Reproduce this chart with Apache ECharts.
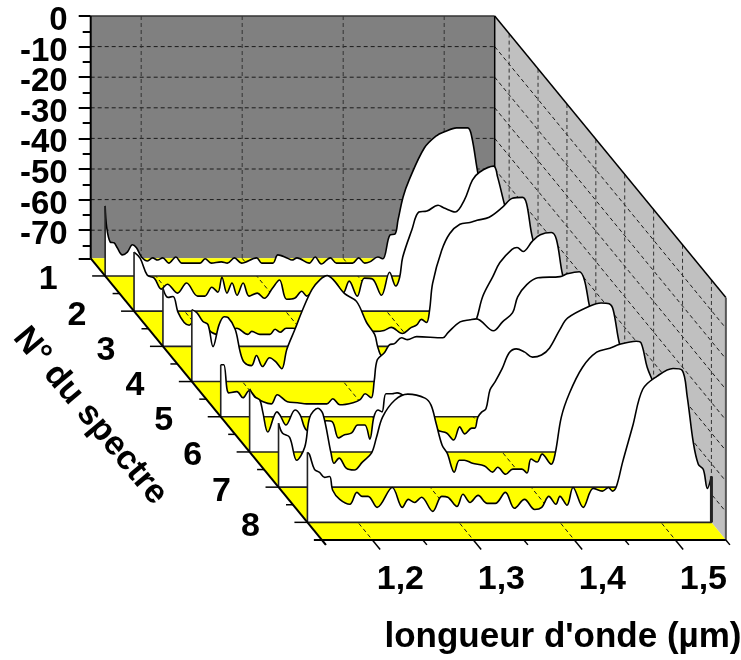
<!DOCTYPE html>
<html><head><meta charset="utf-8">
<style>html,body{margin:0;padding:0;background:#fff}#c{width:741px;height:660px}</style>
<script src="https://cdn.jsdelivr.net/npm/echarts@6/dist/echarts.min.js"></script>
</head><body><div id="c"></div>
<script>
// Spectra: [wavelength in nm, level in dB]
const spectrum1=[[1150,-56.3],[1151.5,-63.2],[1155,-68.1],[1159,-68.4],[1162,-70],[1167,-72.3],[1172,-71.4],[1177,-69],[1181,-70],[1186,-73],[1192,-74.3],[1197,-73.3],[1202,-74],[1207,-73.3],[1213,-75],[1220,-73],[1226,-75],[1244,-75],[1249,-73.6],[1255,-75],[1265,-74.6],[1271,-75],[1278,-73.3],[1285,-75],[1300,-73.3],[1305,-75],[1316,-75],[1321,-72.3],[1330,-73.3],[1335,-74],[1340,-73.3],[1352,-75],[1358,-73],[1364,-75.3],[1373,-73.3],[1379,-75],[1395,-75],[1401,-73.3],[1407,-75],[1412,-74.6],[1420,-73],[1425,-73.6],[1432,-65.8],[1437,-65.5],[1440,-60.9],[1445,-53.4],[1451,-47.8],[1466,-37.4],[1478,-33.4],[1486,-32.1],[1498,-30.8],[1509,-30.8],[1513,-33.8],[1519,-45.5],[1526,-56],[1536,-65.8],[1545,-72.3],[1550,-74]];
const spectrum2=[[1150,-59.9],[1156,-61.9],[1163,-67.4],[1170,-68.4],[1177,-72],[1183,-70.4],[1193,-73.3],[1202,-70],[1213,-74.3],[1220,-74.3],[1227,-71.4],[1233,-73],[1237,-68.1],[1242,-73.3],[1247,-70],[1252,-74],[1258,-70],[1264,-74.3],[1272,-73.3],[1279,-75],[1287,-71.7],[1294,-69],[1301,-75.3],[1309,-75],[1316,-72.7],[1321,-74.3],[1326,-73],[1334,-72.3],[1349,-70],[1357,-73.3],[1363,-69.4],[1371,-74.3],[1378,-68.4],[1386,-68.7],[1395,-74],[1403,-66.5],[1409,-71],[1413,-68.1],[1416,-61.6],[1425,-52.7],[1432,-46.8],[1440,-46.5],[1451,-44.6],[1457,-45.5],[1468,-46.8],[1477,-42.9],[1485,-36.4],[1492,-33.8],[1506,-31.8],[1510,-35.4],[1517,-44.6],[1527,-56],[1540,-65.8],[1550,-70.7]];
const spectrum3=[[1150,-60.2],[1155,-63.2],[1160,-62.9],[1165,-68.1],[1171,-71.4],[1176,-72.3],[1182,-70.7],[1190,-71.4],[1198,-74.6],[1211,-75.6],[1223,-73.3],[1234,-75.3],[1238,-74.3],[1246,-75.3],[1256,-75.3],[1261,-73.6],[1266,-74.6],[1272,-73.3],[1278,-73.3],[1295,-74],[1335,-74],[1360,-74.3],[1369,-74],[1376,-73],[1387,-75],[1396,-73],[1401,-72.3],[1406,-70.4],[1411,-71.4],[1414,-67.4],[1417,-58.6],[1426,-47.8],[1434,-42.3],[1444,-39.3],[1454,-38.7],[1461,-38],[1473,-37],[1486,-33.8],[1496,-30.8],[1506,-30.5],[1510,-32.5],[1516,-43.9],[1528,-56],[1541,-65.8],[1550,-70.7]];
const spectrum4=[[1150,-55.7],[1155,-56.7],[1161,-59.6],[1166,-60.6],[1171,-67.8],[1177,-60.6],[1182,-58],[1186,-58.3],[1193,-62.2],[1198,-69.7],[1202,-73],[1209,-74],[1214,-70.7],[1220,-74.3],[1227,-71.4],[1233,-72.7],[1239,-75],[1244,-68.7],[1252,-62.2],[1259,-56.3],[1269,-49.1],[1277,-45.9],[1284,-44.6],[1290,-45.9],[1301,-50.4],[1313,-53],[1323,-59.9],[1331,-63.8],[1334,-67.8],[1338,-71],[1346,-72],[1376,-70.4],[1405,-68.7],[1425,-63.8],[1432,-58.6],[1438,-51.4],[1448,-44.9],[1455,-40.3],[1467,-36],[1472,-35.4],[1478,-36.7],[1487,-33.4],[1495,-31.2],[1506,-30.5],[1511,-32.8],[1517,-44.2],[1529,-58.9],[1542,-68.7],[1550,-72]];
const spectrum5=[[1150,-62.2],[1153,-62.2],[1158,-71.4],[1166,-71],[1172,-73],[1178,-70.7],[1185,-73],[1192,-74.3],[1200,-75],[1206,-72],[1216,-74.3],[1226,-74.6],[1235,-75],[1255,-75],[1261,-73.3],[1268,-75.3],[1281,-74.6],[1288,-73.6],[1293,-71.7],[1299,-73],[1302,-67.4],[1305,-60.6],[1312,-58.3],[1317,-55.7],[1322,-55.3],[1329,-53.4],[1335,-54],[1344,-53],[1370,-53.4],[1375,-51.7],[1387,-48.2],[1397,-47.5],[1403,-47.2],[1420,-51.1],[1429,-48.2],[1439,-45.2],[1444,-40],[1453,-36],[1464,-33.8],[1486,-33.4],[1493,-32.5],[1505,-31.8],[1510,-34.4],[1515,-42.9],[1525,-55.7],[1537,-65.5],[1550,-70.4]];
const spectrum6=[[1150,-58.6],[1155,-61.2],[1160,-62.2],[1163,-66.1],[1168,-72.7],[1177,-66.1],[1180,-67.1],[1186,-70.4],[1195,-65.5],[1200,-67.1],[1206,-72],[1216,-72.7],[1226,-69],[1232,-69.4],[1238,-74.6],[1244,-73.6],[1251,-73],[1257,-70.4],[1264,-70.4],[1269,-75],[1273,-67.8],[1277,-65.5],[1281,-66.1],[1285,-60.2],[1291,-60.2],[1296,-59.9],[1308,-62.2],[1323,-66.1],[1336,-72],[1345,-73],[1352,-75.3],[1358,-71],[1363,-73.3],[1370,-71.4],[1373,-71.4],[1376,-67.8],[1380,-66.1],[1384,-65.1],[1388,-58.9],[1393,-56.3],[1400,-52],[1407,-46.8],[1414,-45.5],[1422,-46.5],[1430,-48.2],[1439,-47.5],[1447,-45.2],[1457,-39.3],[1465,-35.4],[1487,-31.5],[1498,-30.5],[1506,-30.8],[1510,-32.8],[1516,-43.6],[1528,-57.3],[1541,-67.1],[1550,-72]];
const spectrum7=[[1150,-58.3],[1154,-61.6],[1161,-62.9],[1168,-70.4],[1176,-66.1],[1181,-56.3],[1189,-53.4],[1194,-55.3],[1202,-68.1],[1205,-71.4],[1210,-69.7],[1217,-73],[1225,-73.6],[1233,-71],[1242,-68.1],[1247,-62.9],[1253,-56.3],[1265,-50.8],[1278,-48.8],[1295,-50.1],[1301,-52.4],[1306,-58.3],[1312,-65.5],[1317,-68.1],[1324,-74.3],[1329,-70.4],[1334,-70.4],[1342,-71.4],[1354,-72.3],[1362,-74.3],[1367,-72.7],[1375,-75],[1382,-73.3],[1391,-73.3],[1396,-74.6],[1400,-70],[1406,-71],[1411,-68.4],[1420,-71.7],[1424,-68.1],[1430,-56.3],[1438,-48.5],[1451,-40],[1465,-35.1],[1478,-33.8],[1488,-32.5],[1504,-31.5],[1509,-32.1],[1515,-40],[1522,-45.9],[1532,-57.3],[1542,-63.8],[1550,-67.1]];
const spectrum8=[[1150,-56.3],[1152,-57],[1157,-61.9],[1162,-62.9],[1167,-64.5],[1172,-64.2],[1175,-68.7],[1182,-71.7],[1192,-73.3],[1199,-69.4],[1204,-70.7],[1210,-70.7],[1219,-74.3],[1234,-67.8],[1244,-74.3],[1250,-71.7],[1256,-72.7],[1263,-71],[1274,-75.6],[1283,-70.7],[1289,-71],[1298,-74],[1304,-70],[1311,-72.7],[1319,-70.4],[1328,-73],[1336,-73],[1346,-69.4],[1355,-74.6],[1365,-71.7],[1375,-75],[1382,-74.3],[1389,-70.7],[1396,-73.3],[1400,-70.7],[1407,-73.6],[1413,-67.8],[1423,-74.3],[1433,-68.1],[1442,-69],[1448,-67.8],[1452,-69],[1456,-67.4],[1462,-59.6],[1472,-47.8],[1482,-35.7],[1496,-31.5],[1512,-28.9],[1521,-29.5],[1526,-38],[1532,-53],[1537,-60.2],[1542,-61.9],[1546,-68.1],[1550,-64.2]];
const spectra=[spectrum1,spectrum2,spectrum3,spectrum4,spectrum5,spectrum6,spectrum7,spectrum8];
const spectrumLabels=['1','2','3','4','5','6','7','8'];
const dbMajor=[0,-10,-20,-30,-40,-50,-60,-70];
const dbMinor=[-5,-15,-25,-35,-45,-55,-65,-75];
const nmMajor=[1200,1300,1400,1500];
const nmMinor=[1150,1250,1350,1450,1550];
const nmLabels=['1,2','1,3','1,4','1,5'];

const NM_MIN=1150,NM_MAX=1550,DB_FLOOR=-79.2,DEPTHS=8;
const NM_PER_ROW=28.61,DB_PER_ROW=11.503;   // oblique shift of one spectrum row
const FF='"Liberation Sans", Arial, sans-serif';
const FONT='bold 34px '+FF;
const sx=(nm,d)=>nm+d*NM_PER_ROW, sy=(db,d)=>db-d*DB_PER_ROW;

function line(a,b,stroke,w,dash){return {type:'line',shape:{x1:a[0],y1:a[1],x2:b[0],y2:b[1]},style:{stroke:stroke,lineWidth:w,lineDash:dash||null},silent:true};}
function poly(pts,fill){return {type:'polygon',shape:{points:pts},style:{fill:fill,stroke:null},silent:true};}

function renderWalls(params,api){
  const P=(nm,db,d)=>api.coord([sx(nm,d),sy(db,d)]);
  const c=[];
  c.push(poly([P(NM_MIN,0,0),P(NM_MAX,0,0),P(NM_MAX,DB_FLOOR,0),P(NM_MIN,DB_FLOOR,0)],'#808080'));
  c.push(poly([P(NM_MAX,0,0),P(NM_MAX,0,DEPTHS),P(NM_MAX,DB_FLOOR,DEPTHS),P(NM_MAX,DB_FLOOR,0)],'#C0C0C0'));
  c.push(poly([P(NM_MIN,DB_FLOOR,0),P(NM_MAX,DB_FLOOR,0),P(NM_MAX,DB_FLOOR,DEPTHS),P(NM_MIN,DB_FLOOR,DEPTHS)],'#FFFF00'));
  const dash=[4,3];
  dbMajor.forEach(db=>{ if(db===0)return;
    c.push(line(P(NM_MIN,db,0),P(NM_MAX,db,0),'#1a1a1a',1,dash));
    c.push(line(P(NM_MAX,db,0),P(NM_MAX,db,DEPTHS),'#1a1a1a',1,dash));
  });
  nmMajor.forEach(nm=>{
    c.push(line(P(nm,0,0),P(nm,DB_FLOOR,0),'#333',1,dash));
    c.push(line(P(nm,DB_FLOOR,0),P(nm,DB_FLOOR,DEPTHS),'#1a1a1a',1,dash));
  });
  spectrumLabels.forEach((s,i)=>{
    c.push(line(P(NM_MAX,0,i+.5),P(NM_MAX,DB_FLOOR,i+.5),'#333',1,dash));
  });
  c.push(line(P(NM_MIN,0,0),P(NM_MAX,0,0),'#333',1.5));
  c.push(line(P(NM_MIN,0,0),P(NM_MIN,DB_FLOOR,0),'#000',2));
  c.push(line(P(NM_MAX,0,0),P(NM_MAX,DB_FLOOR,0),'#000',1.5));
  c.push(line(P(NM_MAX,0,0),P(NM_MAX,0,DEPTHS),'#000',1.5));
  c.push(line(P(NM_MAX,0,DEPTHS),P(NM_MAX,DB_FLOOR,DEPTHS),'#555',2));
  return {type:'group',children:c};
}
function renderFront(params,api){
  const P=(nm,db,d)=>api.coord([sx(nm,d),sy(db,d)]);
  const c=[];
  // left and front edges of the floor
  c.push(line(P(NM_MIN,DB_FLOOR,0),P(NM_MIN,DB_FLOOR,DEPTHS+.14),'#000',2));
  const fl=P(NM_MIN,DB_FLOOR,DEPTHS);
  c.push(line([fl[0]-8,fl[1]],P(NM_MAX,DB_FLOOR,DEPTHS),'#000',2));
  // depth ticks and labels
  spectrumLabels.forEach((s,i)=>{
    const a=P(NM_MIN,DB_FLOOR,i+.5);
    c.push(line([a[0]-13,a[1]],a,'#000',1.5));
    if(i<DEPTHS-1){const m=P(NM_MIN,DB_FLOOR,i+1);c.push(line([m[0]-7,m[1]],m,'#000',1.5));}
    c.push({type:'text',style:{text:s,x:a[0]-57,y:a[1]+4,font:FONT,fill:'#000',align:'center',verticalAlign:'middle'}});
  });
  // level labels
  dbMajor.forEach(db=>{
    const a=P(NM_MIN,db,0);
    c.push({type:'text',style:{text:String(db),x:a[0]-23,y:a[1]+5,font:'bold 33px '+FF,fill:'#000',align:'right',verticalAlign:'middle'}});
  });
  // wavelength ticks and labels
  nmMajor.forEach((nm,i)=>{
    const a=P(nm,DB_FLOOR,DEPTHS);
    c.push(line(a,P(nm,DB_FLOOR,DEPTHS+.27),'#000',1.5));
    c.push({type:'text',style:{text:nmLabels[i],x:a[0]+28,y:a[1]+40,font:FONT,fill:'#000',align:'center',verticalAlign:'middle'}});
  });
  nmMinor.forEach(nm=>{c.push(line(P(nm,DB_FLOOR,DEPTHS),P(nm,DB_FLOOR,DEPTHS+.14),'#000',1.5));});
  // thick right end of the last spectrum
  const last=spectrum8[spectrum8.length-1];
  c.push(line(P(NM_MAX,DB_FLOOR,7.5),P(NM_MAX,last[1],7.5),'#222',3));
  return {type:'group',children:c};
}

const series=[{type:'custom',z:1,data:[0],clip:false,silent:true,renderItem:renderWalls}];
spectra.forEach((sp,i)=>{
  const d=i+.5;
  const curve=sp.map(p=>[sx(p[0],d),sy(p[1],d)]);
  const base=sy(DB_FLOOR,d);
  series.push({type:'line',z:10+2*i,data:curve,smooth:0.35,showSymbol:false,clip:false,silent:true,
    lineStyle:{color:'#000',width:1.6},areaStyle:{color:'#fff',opacity:1,origin:base}});
  series.push({type:'line',z:11+2*i,data:[curve[0],[sx(NM_MIN,d),base],[sx(NM_MAX,d),base],curve[curve.length-1]],showSymbol:false,clip:false,silent:true,
    lineStyle:{color:'#222',width:1.6}});
});
series.push({type:'custom',z:40,data:[0],clip:false,silent:true,renderItem:renderFront});

const yCommon={type:'value',min:-175,max:0,interval:5,position:'left',splitLine:{show:false},axisLine:{show:false}};
echarts.init(document.getElementById('c'),null,{renderer:'canvas'}).setOption({
  animation:false,backgroundColor:'#fff',
  grid:{left:90.7,top:16,width:(NM_MAX-NM_MIN+DEPTHS*NM_PER_ROW)*1.01,height:175*3.06},
  xAxis:{type:'value',min:NM_MIN,max:NM_MAX+DEPTHS*NM_PER_ROW,show:false},
  yAxis:[
    Object.assign({},yCommon,{axisTick:{show:true,length:12,lineStyle:{color:'#000',width:2},customValues:dbMajor.concat([DB_FLOOR])},axisLabel:{show:false}}),
    Object.assign({},yCommon,{axisTick:{show:true,length:8,lineStyle:{color:'#000',width:2},customValues:dbMinor},axisLabel:{show:false}})
  ],
  series:series,
  graphic:{elements:[
    {type:'text',x:90,y:416,rotation:-50*Math.PI/180,z:50,silent:true,style:{text:'N° du spectre',font:FONT,fill:'#000',align:'center',verticalAlign:'middle'}},
    {type:'text',x:563,y:637,z:50,silent:true,style:{text:"longueur d'onde (µm)",font:'bold 35px '+FF,fill:'#000',align:'center',verticalAlign:'middle'}}
  ]}
});
</script></body></html>
